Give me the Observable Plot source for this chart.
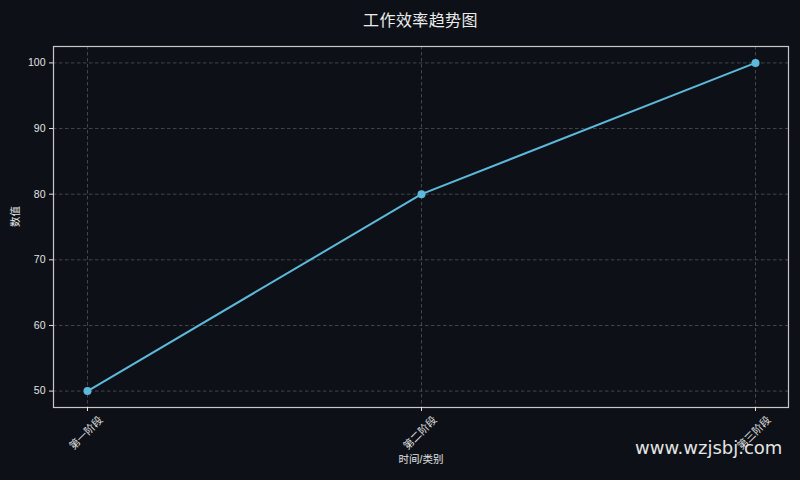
<!DOCTYPE html>
<html>
<head>
<meta charset="utf-8">
<script src="https://cdn.jsdelivr.net/npm/d3@7"></script>
<script src="https://cdn.jsdelivr.net/npm/@observablehq/plot@0.6"></script>
<style>
  html, body { margin: 0; padding: 0; background: #0d1117; }
  #wrap { position: relative; width: 800px; height: 480px; background: #0d1117; overflow: hidden; }
  #title { position: absolute; left: 53px; width: 735px; top: 7px; text-align: center;
           font-family: "Noto Sans CJK SC", sans-serif; font-size: 16px; color: #ececec; letter-spacing: 0.4px; font-weight: 400; }
  #wm { position: absolute; left: 635px; top: 439px; font-family: "DejaVu Sans", sans-serif;
        font-size: 18px; color: #e4e4e4; line-height: 1; white-space: nowrap; }
</style>
</head>
<body>
<div id="wrap">
  <div id="chart"></div>
  <div id="title">工作效率趋势图</div>
  <div id="wm">www.wzjsbj.com</div>
</div>
<script>
const stages = ["第一阶段", "第二阶段", "第三阶段"];
const values = [50, 80, 100];
const yTicks = [50, 60, 70, 80, 90, 100];
const xLabel = "时间/类别";
const yLabel = "数值";

const data = stages.map((s, i) => ({stage: s, value: values[i]}));
const font = "'Liberation Sans', 'Noto Sans CJK SC', sans-serif";
const gridStyle = {stroke: "#8a8a8a", strokeOpacity: 0.55, strokeDasharray: "3.5,2.5", strokeWidth: 0.8};
const txt = "#e2e2e2";

const chart = Plot.plot({
  width: 800,
  height: 480,
  marginTop: 46,
  marginBottom: 73,
  marginLeft: 53,
  marginRight: 12,
  style: {background: "#0d1117", color: txt, fontSize: "10px", fontFamily: font},
  x: {type: "point", domain: stages, padding: 0.1, align: 0.5, axis: null},
  y: {domain: [47.5, 102.5], axis: null},
  marks: [
    Plot.gridX(stages, gridStyle),
    Plot.gridY(yTicks, gridStyle),
    Plot.frame({stroke: "#c8c8c8", strokeWidth: 1.2}),
    Plot.axisY(yTicks, {anchor: "left", tickSize: 4, tickPadding: 4, stroke: txt, fill: txt, fontSize: 10.5, label: null}),
    Plot.axisX(stages, {anchor: "bottom", tickSize: 4, stroke: txt, tickFormat: () => "", label: null}),
    Plot.text(stages, {x: d => d, frameAnchor: "bottom", dy: 28, dx: 1, rotate: -45, textAnchor: "middle", fill: txt, fontSize: 10.5}),
    Plot.text([xLabel], {frameAnchor: "bottom", dy: 55, fill: txt, fontSize: 10.5}),
    Plot.text([yLabel], {frameAnchor: "left", dx: -38, rotate: -90, fill: txt, fontSize: 10.5}),
    Plot.line(data, {x: "stage", y: "value", stroke: "#5db9dc", strokeWidth: 2}),
    Plot.dot(data, {x: "stage", y: "value", fill: "#5db9dc", r: 4, stroke: "none"})
  ]
});
document.getElementById("chart").appendChild(chart);
</script>
</body>
</html>
